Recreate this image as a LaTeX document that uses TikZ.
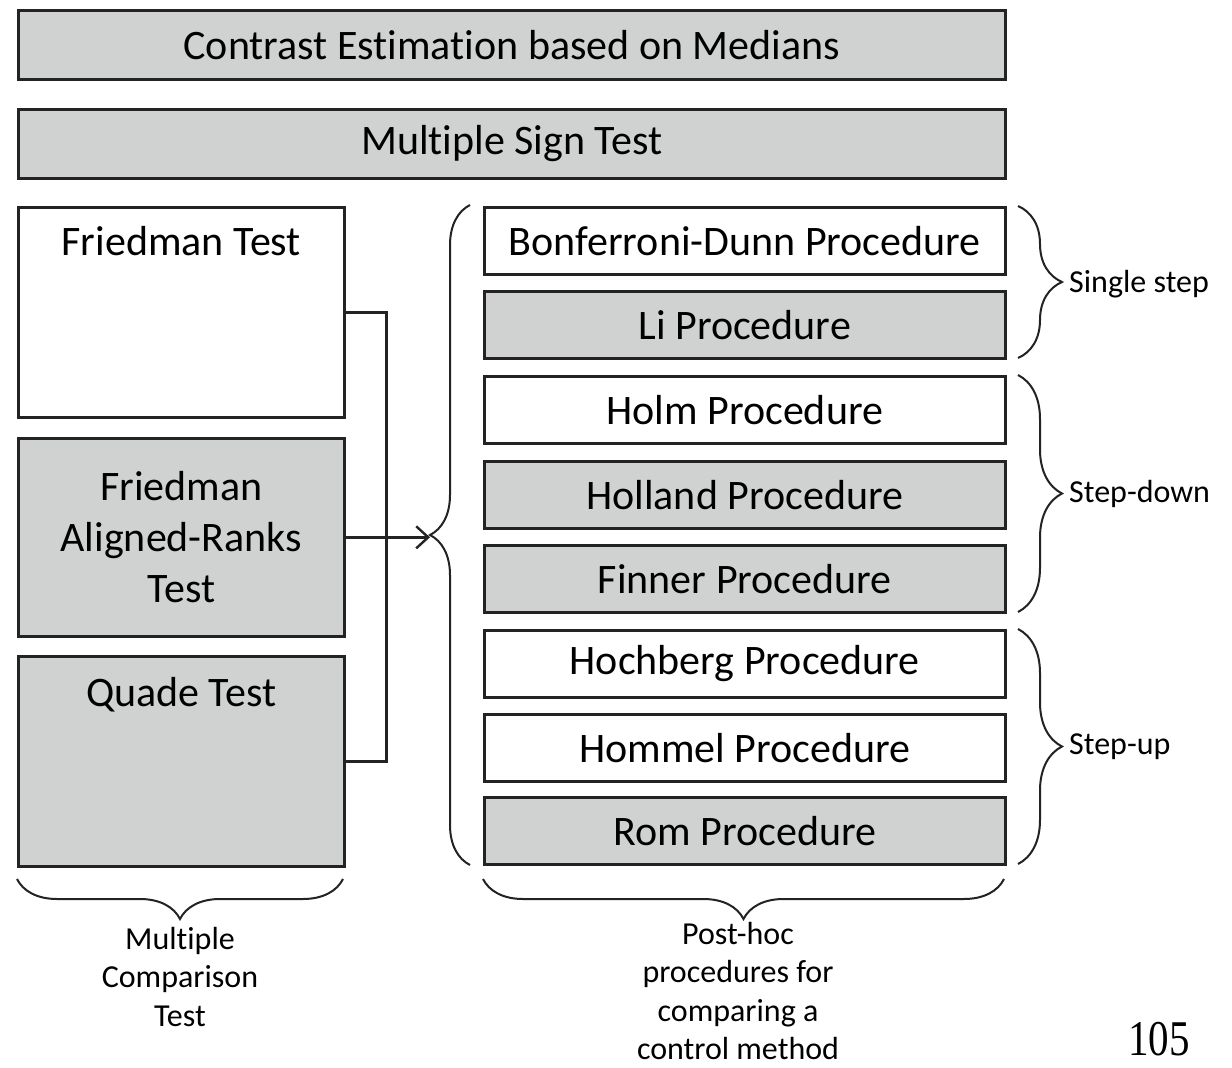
\documentclass[tikz,border=0pt]{standalone}
\usepackage{fontspec}
\setmainfont[Ligatures=NoCommon]{Carlito}
\newfontfamily\numfont{Liberation Serif}
\usetikzlibrary{decorations.pathreplacing,arrows.meta}
\definecolor{boxgray}{RGB}{208,210,209}
\definecolor{edge}{RGB}{35,35,35}
\begin{document}
\begin{tikzpicture}[x=1pt,y=-1pt,
  font=\fontsize{42}{51}\selectfont,
  box/.style={draw=edge, line width=2.6pt, rectangle, anchor=north west, inner sep=0pt, align=center},
  wbox/.style={box, fill=white},
  gbox/.style={box, fill=boxgray},
  topbox/.style={gbox, minimum width=987pt, minimum height=69pt},
  leftbox/.style={minimum width=326pt},
  procbox/.style={minimum width=521pt, minimum height=67pt},
  curly/.style={draw=edge, line width=2pt, decorate, decoration={brace, amplitude=#1}},
  smalltext/.style={font=\fontsize{32}{38.5}\selectfont, align=center, inner sep=0pt},
  conn/.style={draw=edge, line width=2.4pt}
]
\useasboundingbox (0,0) rectangle (1232,1068);
\fill[white] (0,0) rectangle (1232,1068);

% top boxes
\node[topbox] (cem) at (17,9) {Contrast Estimation based on Medians};
\node[topbox] (mst) at (17,108) {Multiple Sign Test};

% left column
\node[wbox, leftbox, minimum height=210pt,
  label={[anchor=north, yshift=-17pt]north:Friedman Test}] (ft) at (17,206) {};
\node[gbox, leftbox, minimum height=198pt] (fa) at (17,437) {Friedman\\Aligned-Ranks\\Test};
\node[gbox, leftbox, minimum height=210pt,
  label={[anchor=north, yshift=-19pt]north:Quade Test}] (qt) at (17,655) {};

% right column
\node[wbox, procbox] (bd) at (483,206) {Bonferroni-Dunn Procedure};
\node[gbox, procbox] (li) at (483,290) {Li Procedure};
\node[wbox, procbox] (ho) at (483,375) {Holm Procedure};
\node[gbox, procbox] (hl) at (483,460) {Holland Procedure};
\node[gbox, procbox] (fi) at (483,544) {Finner Procedure};
\node[wbox, procbox] (hb) at (483,629) {Hochberg Procedure};
\node[wbox, procbox] (hm) at (483,713) {Hommel Procedure};
\node[gbox, procbox] (ro) at (483,796) {Rom Procedure};

% big left brace
\draw[curly=40pt] (470,865) -- (470,205);
\coordinate (tip) at (430,536);

% connectors
\draw[conn] (ft.east) -- ++(41,0) |- (qt.east);
\draw[conn, -{Straight Barb[length=12pt, width=22pt, line width=2.4pt]}] (fa.east) -- (fa.east -| tip);

% right braces
\draw[curly=44pt] (1018,206) -- (1018,358);
\draw[curly=44pt] (1018,375) -- (1018,612);
\draw[curly=44pt] (1018,629) -- (1018,864);
\node[smalltext, anchor=west] (ss) at (1069,284) {Single step};
\node[smalltext, anchor=west] (sd) at (1069,494) {Step-down};
\node[smalltext, anchor=west] (su) at (1069,747) {Step-up};

% bottom braces
\draw[curly=40pt] (343,879) -- (17,879);
\draw[curly=40pt] (1004,879) -- (483,879);
\node[smalltext, anchor=north] (mct) at (180,927) {Multiple\\Comparison\\Test};
\node[smalltext, anchor=north] (phc) at (738,922) {Post-hoc\\procedures for\\comparing a\\control method};

% page number
\node[anchor=base, inner sep=0pt, font=\numfont\fontsize{50}{50}\selectfont] (pg) at (1159,1055) {\scalebox{0.82}[1]{105}};
\end{tikzpicture}
\end{document}
